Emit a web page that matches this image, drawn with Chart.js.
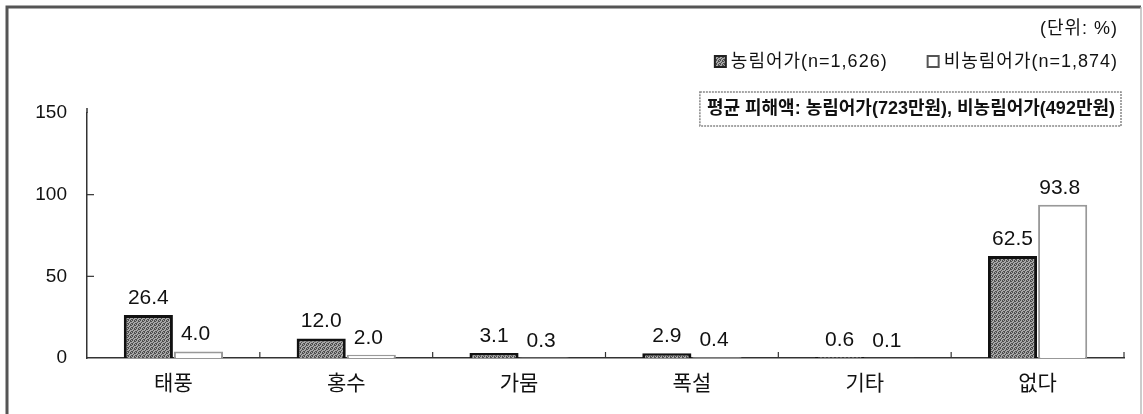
<!DOCTYPE html>
<html lang="ko">
<head>
    <meta charset="UTF-8">
    <title>재해 피해 경험</title>
    <script src="https://cdn.jsdelivr.net/npm/chart.js"></script>
    <style>
        body { margin: 0; background: #fff; }
        #wrap { width: 1143px; height: 414px; position: relative; }
    </style>
</head>
<body>
<div id="wrap"><canvas id="damageChart"></canvas></div>

<script>
    // values
    const categories = ['태풍', '홍수', '가뭄', '폭설', '기타', '없다'];
    const farmValues = [26.4, 12.0, 3.1, 2.9, 0.6, 62.5];
    const nonFarmValues = [4.0, 2.0, 0.3, 0.4, 0.1, 93.8];
    const seriesLabels = ['농림어가(n=1,626)', '비농림어가(n=1,874)'];
    const yTicks = [0, 50, 100, 150];
    const unitText = '(단위: %)';
    const noteText = '평균 피해액: 농림어가(723만원), 비농림어가(492만원)';

    const FONT = "'Liberation Sans', 'Noto Sans CJK KR', sans-serif";

    // dithered gray fill like the scanned dark bars
    function makePattern() {
        const c = document.createElement('canvas');
        c.width = 4; c.height = 4;
        const g = c.getContext('2d');
        g.fillStyle = '#a8a8a8';
        g.fillRect(0, 0, 4, 4);
        g.fillStyle = '#4e4e4e';
        g.fillRect(0, 0, 1, 1); g.fillRect(2, 1, 1, 1);
        g.fillRect(1, 2, 1, 1); g.fillRect(3, 3, 1, 1);
        g.fillRect(2, 0, 1, 1); g.fillRect(0, 3, 1, 1);
        g.fillRect(3, 1, 1, 1);
        return g.createPattern(c, 'repeat');
    }

    // frame, header texts, note box and small inward ticks
    const decorPlugin = {
        id: 'decor',
        afterDraw(chart) {
            const ctx = chart.ctx;
            const xs = chart.scales.x, ys = chart.scales.y;
            const area = chart.chartArea;
            ctx.save();

            // outer frame
            ctx.strokeStyle = '#555';
            ctx.lineWidth = 3;
            ctx.beginPath();
            ctx.moveTo(7, 414); ctx.lineTo(7, 7); ctx.lineTo(1141, 7);
            ctx.stroke();
            ctx.strokeStyle = '#bbb';
            ctx.lineWidth = 1.5;
            ctx.beginPath();
            ctx.moveTo(1141, 7); ctx.lineTo(1141, 414);
            ctx.stroke();

            // y axis runs a little above the top tick
            ctx.strokeStyle = '#333';
            ctx.lineWidth = 1.5;
            ctx.beginPath();
            ctx.moveTo(area.left, area.top); ctx.lineTo(area.left, area.top - 5);
            ctx.stroke();

            // inward ticks on y axis (50, 100)
            ctx.lineWidth = 1.2;
            [50, 100].forEach(v => {
                const y = ys.getPixelForValue(v);
                ctx.beginPath();
                ctx.moveTo(area.left, y); ctx.lineTo(area.left + 7, y);
                ctx.stroke();
            });
            // upward ticks at category boundaries on x axis
            for (let i = 0; i < categories.length; i++) {
                const x = i < categories.length - 1
                    ? (xs.getPixelForValue(i) + xs.getPixelForValue(i + 1)) / 2
                    : area.right;
                ctx.beginPath();
                ctx.moveTo(x, area.bottom); ctx.lineTo(x, area.bottom - 6);
                ctx.stroke();
            }

            // unit text (scan has loose letter spacing)
            ctx.letterSpacing = '1px';
            ctx.fillStyle = '#111';
            ctx.font = '18px ' + FONT;
            ctx.textBaseline = 'middle';
            ctx.textAlign = 'right';
            ctx.fillText(unitText, 1118, 29);

            // legend
            const ly = 62;
            let right = 1118;
            const w2 = ctx.measureText(seriesLabels[1]).width;
            ctx.fillText(seriesLabels[1], right, ly);
            let bx = right - w2 - 16;
            ctx.fillStyle = '#fff';
            ctx.strokeStyle = '#555';
            ctx.lineWidth = 2;
            ctx.fillRect(bx, ly - 6, 11, 11);
            ctx.strokeRect(bx, ly - 6, 11, 11);
            right = bx - 40;
            ctx.fillStyle = '#111';
            const w1 = ctx.measureText(seriesLabels[0]).width;
            ctx.fillText(seriesLabels[0], right, ly);
            bx = right - w1 - 16;
            ctx.fillStyle = pattern;
            ctx.fillRect(bx, ly - 6, 11, 11);
            ctx.strokeStyle = '#222';
            ctx.strokeRect(bx, ly - 6, 11, 11);
            ctx.letterSpacing = '0px';

            // note box
            ctx.font = 'bold 18px ' + FONT;
            ctx.fillStyle = '#111';
            const nw = ctx.measureText(noteText).width;
            ctx.fillText(noteText, 1115, 109);
            ctx.strokeStyle = '#888';
            ctx.lineWidth = 1.5;
            ctx.setLineDash([2, 1]);
            ctx.strokeRect(1115 - nw - 7, 92, nw + 13, 34);
            ctx.setLineDash([]);

            ctx.restore();
        },
        afterDatasetsDraw(chart) {
            const ctx = chart.ctx;
            ctx.save();
            ctx.font = '21px ' + FONT;
            ctx.fillStyle = '#111';
            ctx.textAlign = 'center';
            ctx.textBaseline = 'alphabetic';
            chart.data.datasets.forEach((ds, di) => {
                chart.getDatasetMeta(di).data.forEach((bar, i) => {
                    ctx.fillText(ds.data[i].toFixed(1), bar.x - (di === 1 ? 3 : 0), bar.y - 11);
                });
            });
            ctx.restore();
        }
    };

    const pattern = makePattern();

    new Chart(document.getElementById('damageChart'), {
        type: 'bar',
        data: {
            labels: categories,
            datasets: [{
                label: seriesLabels[0],
                data: farmValues,
                backgroundColor: pattern,
                borderColor: '#111',
                borderWidth: 3,
                barPercentage: 0.98,
                categoryPercentage: 0.58
            }, {
                label: seriesLabels[1],
                data: nonFarmValues,
                backgroundColor: '#ffffff',
                borderColor: '#999',
                borderWidth: 2,
                barPercentage: 0.98,
                categoryPercentage: 0.58
            }]
        },
        options: {
            responsive: true,
            maintainAspectRatio: false,
            animation: false,
            layout: { padding: { left: 0, right: 19, top: 113, bottom: 0 } },
            plugins: {
                legend: { display: false },
                title: { display: false },
                tooltip: { enabled: false }
            },
            scales: {
                x: {
                    grid: { display: false },
                    border: { display: true, color: '#333', width: 1.5 },
                    ticks: { color: '#111', font: { family: FONT, size: 21 }, padding: 6 },
                    afterFit(scale) { scale.height = 56; }
                },
                y: {
                    min: 0,
                    max: 150,
                    grid: { display: false, drawTicks: false },
                    border: { display: true, color: '#333', width: 1.5 },
                    afterBuildTicks(scale) { scale.ticks = yTicks.map(v => ({ value: v })); },
                    ticks: { color: '#111', font: { family: FONT, size: 19 }, padding: 20 },
                    afterFit(scale) { scale.width = 87; }
                }
            }
        },
        plugins: [decorPlugin]
    });
</script>
</body>
</html>
